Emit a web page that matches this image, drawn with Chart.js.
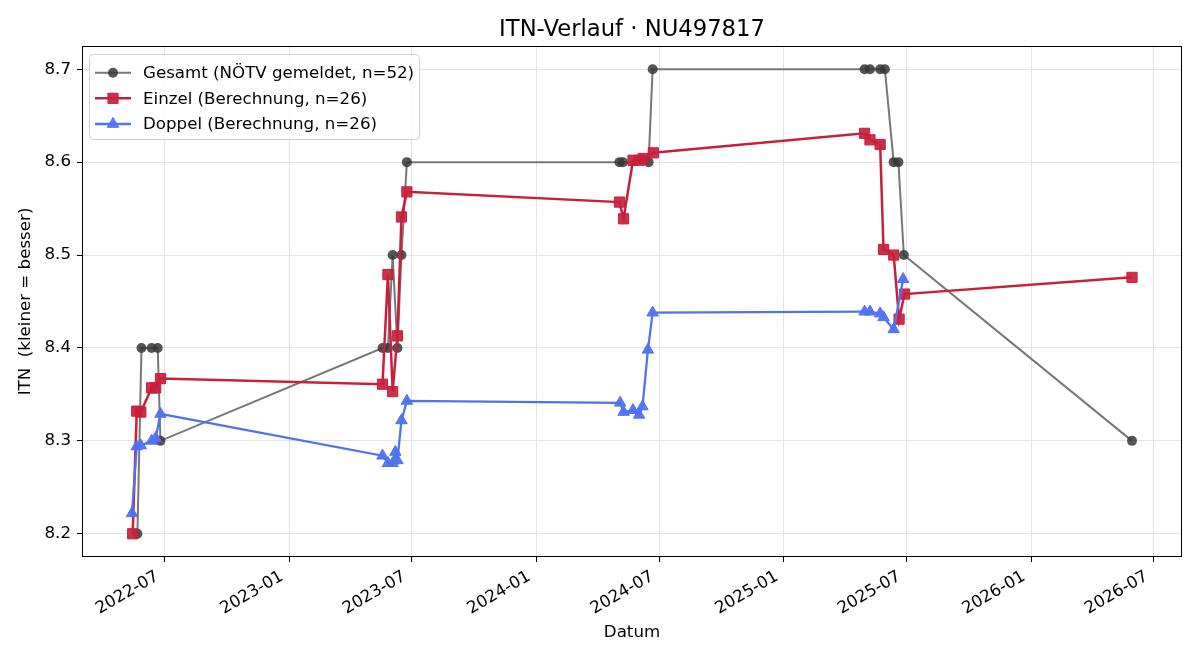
<!DOCTYPE html>
<html><head><meta charset="utf-8">
<script src="https://cdn.jsdelivr.net/npm/chart.js@4"></script>
<style>html,body{margin:0;padding:0;background:#fff}#wrap{width:1200px;height:660px}</style>
</head><body><div id="wrap"><canvas id="c" width="1200" height="660"></canvas></div>
<script>
// ---------- data ----------
const chartTitle = 'ITN-Verlauf · NU497817';
const xAxisTitle = 'Datum';
const yAxisTitle = 'ITN  (kleiner = besser)';

const seriesLabels = ['Gesamt (NÖTV gemeldet, n=52)', 'Einzel (Berechnung, n=26)', 'Doppel (Berechnung, n=26)'];

const gesamtDates = ['2022-05-22','2022-05-28','2022-06-12','2022-06-21','2022-06-25',
  '2023-05-19','2023-05-27','2023-06-03','2023-06-10','2023-06-16','2023-06-24',
  '2024-05-03','2024-05-08','2024-06-15','2024-06-21',
  '2025-04-30','2025-05-08','2025-05-23','2025-05-30','2025-06-12','2025-06-19','2025-06-27',
  '2026-05-30'];
const gesamtValues = [8.2,8.4,8.4,8.4,8.3,
  8.4,8.4,8.5,8.4,8.5,8.6,
  8.6,8.6,8.6,8.7,
  8.7,8.7,8.7,8.7,8.6,8.6,8.5,
  8.3];

const einzelDates = ['2022-05-15','2022-05-21','2022-05-27','2022-06-12','2022-06-18','2022-06-25',
  '2023-05-19','2023-05-27','2023-06-03','2023-06-10','2023-06-16','2023-06-24',
  '2024-05-03','2024-05-09','2024-05-23','2024-06-01','2024-06-07','2024-06-22',
  '2025-04-30','2025-05-08','2025-05-23','2025-05-28','2025-06-12','2025-06-20','2025-06-28',
  '2026-05-30'];
const einzelValues = [8.200,8.332,8.331,8.357,8.357,8.367,
  8.361,8.479,8.353,8.413,8.541,8.568,
  8.557,8.539,8.602,8.602,8.604,8.610,
  8.631,8.624,8.619,8.506,8.500,8.431,8.458,
  8.476];

const doppelDates = ['2022-05-14','2022-05-21','2022-05-27','2022-06-12','2022-06-18','2022-06-25',
  '2023-05-19','2023-05-27','2023-06-03','2023-06-07','2023-06-10','2023-06-16','2023-06-24',
  '2024-05-04','2024-05-09','2024-05-23','2024-06-01','2024-06-06','2024-06-14','2024-06-21',
  '2025-04-30','2025-05-08','2025-05-23','2025-05-28','2025-06-12','2025-06-26'];
const doppelValues = [8.222,8.294,8.295,8.300,8.303,8.329,
  8.284,8.276,8.276,8.288,8.279,8.322,8.343,
  8.341,8.331,8.333,8.328,8.337,8.398,8.438,
  8.439,8.439,8.437,8.433,8.420,8.474];

const xTickLabels = ['2022-07','2023-01','2023-07','2024-01','2024-07','2025-01','2025-07','2026-01','2026-07'];
const yTickValues = [8.2,8.3,8.4,8.5,8.6,8.7];

// ---------- helpers ----------
function toTs(s){ const p = s.split('-').map(Number); return Date.UTC(p[0], p[1]-1, p[2] || 1); }
function pts(dates, vals){ return dates.map((d,i)=>({x: toTs(d), y: vals[i]})); }
const xTickValues = xTickLabels.map(toTs);

const allX = [].concat(gesamtDates, einzelDates, doppelDates).map(toTs);
const allY = [].concat(gesamtValues, einzelValues, doppelValues);
const xMinD = Math.min(...allX), xMaxD = Math.max(...allX);
const yMinD = Math.min(...allY), yMaxD = Math.max(...allY);
const xPad = (xMaxD - xMinD) * 0.05, yPad = (yMaxD - yMinD) * 0.05;

const FONT = 'DejaVu Sans';
const fs = 16.67;
const gridColor = '#e4e4e4';

const styles = [
  {line:'#777777', lw:2.0, fill:'rgba(55,55,55,0.85)', stroke:'rgba(55,55,55,0.85)', ps:'circle', r:5, bw:0},
  {line:'#c81f3d', lw:2.5, fill:'rgba(200,31,61,0.92)', stroke:'#c81f3d', ps:'rect', r:7.2, bw:1},
  {line:'#4f72ef', lw:2.3, fill:'rgba(79,114,239,0.95)', stroke:'#4f72ef', ps:'triangle', r:6.6, bw:1}
];
const seriesData = [pts(gesamtDates, gesamtValues), pts(einzelDates, einzelValues), pts(doppelDates, doppelValues)];

const datasets = seriesData.map((d,i)=>({
  label: seriesLabels[i], data: d, order: 3 - i,
  borderColor: styles[i].line, borderWidth: styles[i].lw,
  pointStyle: styles[i].ps, pointRadius: styles[i].r, pointHoverRadius: styles[i].r,
  pointBackgroundColor: styles[i].fill, pointBorderColor: styles[i].stroke, pointBorderWidth: styles[i].bw,
  fill: false, tension: 0
}));

const decor = {
  id: 'decor',
  afterDraw(chart){
    const {ctx, chartArea: a} = chart;
    ctx.save();
    // frame
    ctx.strokeStyle = '#000'; ctx.lineWidth = 1;
    ctx.strokeRect(Math.round(a.left)+0.5, Math.round(a.top)+0.5, Math.round(a.right-a.left)-1, Math.round(a.bottom-a.top)-1);
    // title
    ctx.fillStyle = '#000';
    ctx.font = '22.7px "' + FONT + '"';
    ctx.textAlign = 'center'; ctx.textBaseline = 'alphabetic';
    ctx.fillText(chartTitle, (a.left + a.right)/2, 36);
    // legend
    const bx = 89.5, by = 54.5, bw = 330, bh = 85, rr = 4;
    ctx.beginPath();
    ctx.moveTo(bx+rr, by); ctx.lineTo(bx+bw-rr, by); ctx.quadraticCurveTo(bx+bw, by, bx+bw, by+rr);
    ctx.lineTo(bx+bw, by+bh-rr); ctx.quadraticCurveTo(bx+bw, by+bh, bx+bw-rr, by+bh);
    ctx.lineTo(bx+rr, by+bh); ctx.quadraticCurveTo(bx, by+bh, bx, by+bh-rr);
    ctx.lineTo(bx, by+rr); ctx.quadraticCurveTo(bx, by, bx+rr, by); ctx.closePath();
    ctx.fillStyle = 'rgba(255,255,255,0.85)'; ctx.fill();
    ctx.strokeStyle = '#d0d0d0'; ctx.lineWidth = 1; ctx.stroke();
    const rows = [72.7, 98.3, 124];
    seriesLabels.forEach((lab, i)=>{
      const s = styles[i], y = rows[i];
      ctx.strokeStyle = s.line; ctx.lineWidth = s.lw;
      ctx.beginPath(); ctx.moveTo(95, y); ctx.lineTo(131, y); ctx.stroke();
      ctx.fillStyle = s.fill; ctx.strokeStyle = s.stroke; ctx.lineWidth = s.bw;
      Chart.helpers.drawPoint(ctx, {pointStyle: s.ps, radius: s.r, rotation: 0, borderWidth: s.bw}, 113, y);
      ctx.fillStyle = '#000';
      ctx.font = fs + 'px "' + FONT + '"';
      ctx.textAlign = 'left'; ctx.textBaseline = 'middle';
      ctx.fillText(lab, 143, y + 1);
    });
    ctx.restore();
  }
};

new Chart(document.getElementById('c'), {
  type: 'line',
  data: { datasets },
  plugins: [decor],
  options: {
    responsive: false, animation: false, devicePixelRatio: 1,
    layout: { padding: { left: 0, top: 46, right: 18, bottom: 0 } },
    plugins: { legend: {display:false}, title: {display:false}, tooltip: {enabled:false} },
    scales: {
      x: {
        type: 'linear', min: xMinD - xPad, max: xMaxD + xPad,
        afterBuildTicks: s => { s.ticks = xTickValues.map(v=>({value:v})); },
        ticks: { callback: (v, i) => xTickLabels[i], minRotation: 30, maxRotation: 30, autoSkip: false,
                 font: {family: FONT, size: fs, lineHeight: 1.164}, color: '#000', padding: 5, labelOffset: -7 },
        grid: { color: gridColor, lineWidth: 1, tickLength: 5, tickColor: '#000', tickWidth: 1 },
        border: { display: false },
        title: { display: true, text: xAxisTitle, color: '#000', font: {family: FONT, size: fs, lineHeight: 1.2}, padding: {top: 0, bottom: 17} },
        afterFit: s => { s.height = 103; s.paddingLeft = 0; s.paddingRight = 0; }
      },
      y: {
        type: 'linear', min: yMinD - yPad, max: yMaxD + yPad,
        afterBuildTicks: s => { s.ticks = yTickValues.map(v=>({value:v})); },
        ticks: { callback: v => v.toFixed(1), font: {family: FONT, size: fs}, color: '#000', padding: 6 },
        grid: { color: gridColor, lineWidth: 1, tickLength: 5, tickColor: '#000', tickWidth: 1 },
        border: { display: false },
        title: { display: true, text: yAxisTitle, color: '#000', font: {family: FONT, size: fs, lineHeight: 1.2}, padding: {top: 16, bottom: 0} },
        afterFit: s => { s.width = 82; s.paddingTop = 0; s.paddingBottom = 0; }
      }
    }
  }
});
</script></body></html>
